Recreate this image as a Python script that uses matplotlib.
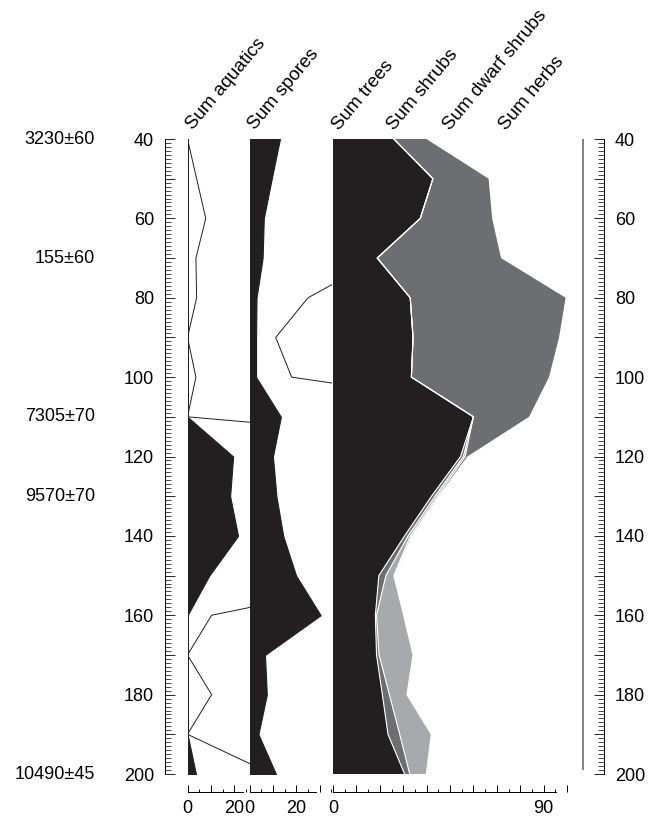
import numpy as np
import matplotlib
matplotlib.use("Agg")
import matplotlib.pyplot as plt
from matplotlib.ticker import MultipleLocator, FuncFormatter
from matplotlib.transforms import blended_transform_factory

plt.rcParams['font.family'] = ['Liberation Sans', 'DejaVu Sans']
plt.rcParams['font.size'] = 13

# depth (cm) of each sample
depths = [40, 50, 60, 70, 80, 90, 100, 110, 120, 130, 140, 150, 160, 170, 180, 190, 200]

# percentages
aquatics = [0, 0, 0, 0, 0, 0, 0, 0, 19.5, 18.2, 21.6, 9.3, 0, 0, 0, 0, 3.6]
aquatics_exag = [0, 3.9, 7.8, 3.6, 3.9, 0, 3.6, 0, 195, 182, 216, 93, 10.3, 0, 10.3, 0, 36]
spores = [13.0, 9.5, 6.1, 5.6, 3.0, 2.8, 2.8, 13.4, 10.0, 11.5, 14.4, 19.9, 30.4, 6.6, 7.4, 3.8, 11.3]
spores_exag_depths = [70, 80, 90, 100, 110]
spores_exag = [56, 25.0, 11.2, 18.0, 134]

trees = [26.0, 42.7, 37.3, 18.9, 33.0, 34.2, 33.5, 60.0, 54.5, 42.1, 30.6, 19.6, 18.1, 18.6, 21.1, 23.5, 30.6]
shrubs = [0, 0, 0, 0, 0, 0, 0, 0, 1.2, 1.5, 1.5, 3.0, 0.5, 1.1, 3.0, 5.0, 2.2]
dwarf_shrubs = [0, 0, 0, 0, 0, 0, 0, 0, 0.8, 1.0, 1.0, 3.4, 11.6, 14.5, 7.5, 13.5, 7.1]
herbs = [13.9, 23.8, 30.7, 52.9, 66.4, 62.4, 58.8, 23.8, 0.9, 0.3, 0.3, 0, 0, 0, 0, 0, 0]

# radiocarbon dates
date_depths = [40, 70, 110, 130, 200]
date_labels = ['3230±60', '155±60', '7305±70', '9570±70', '10490±45']

BLACK = '#231f20'
DARK = '#6d6e71'
LIGHT = '#a7a9ac'

W, H = 653, 821
Y_TOP, Y_BOT = 139, 774
PX = 2.34  # pixels per percent


def rect(x0, x1):
    return [x0 / W, 1 - Y_BOT / H, (x1 - x0) / W, (Y_BOT - Y_TOP) / H]


fig = plt.figure(figsize=(W / 100, H / 100), dpi=100)


def panel(x0, xmax, bound):
    ax = fig.add_axes(rect(x0, x0 + xmax * PX))
    ax.set_xlim(0, xmax)
    ax.set_ylim(200, 40)
    ax.patch.set_visible(False)
    for s in ['top', 'left', 'right']:
        ax.spines[s].set_visible(False)
    ax.spines['bottom'].set_position(('outward', 13))
    ax.spines['bottom'].set_bounds(0, bound)
    ax.spines['bottom'].set_linewidth(0.7)
    ax.set_yticks([])
    ax.xaxis.set_major_locator(MultipleLocator(10))
    ax.xaxis.set_minor_locator(MultipleLocator(5))
    ax.tick_params(axis='x', which='major', direction='in', length=5, width=0.7, pad=6)
    ax.tick_params(axis='x', which='minor', direction='in', length=2.2, width=0.7)
    return ax


d = np.array(depths)

# aquatics
ax_a = panel(187.5, 26.7, 23.8)
ax_a.fill_betweenx(d, 0, aquatics, facecolor=BLACK, edgecolor=BLACK, lw=0.8)
ax_a.plot(aquatics_exag, d, color=BLACK, lw=0.7)
ax_a.xaxis.set_major_formatter(FuncFormatter(lambda v, p: f'{v:.0f}' if v in (0, 20) else ''))

# spores
ax_s = panel(249.5, 35.3, 28.5)
ax_s.fill_betweenx(d, 0, spores, facecolor=BLACK, edgecolor=BLACK, lw=0.8)
ax_s.plot(spores_exag, spores_exag_depths, color=BLACK, lw=0.7)
ax_s.xaxis.set_major_formatter(FuncFormatter(lambda v, p: f'{v:.0f}' if v in (0, 20) else ''))

# main stacked panel
ax_m = panel(333, 100, 95.4)
c1 = np.array(trees)
c2 = c1 + np.array(shrubs)
c3 = c2 + np.array(dwarf_shrubs)
c4 = c3 + np.array(herbs)
ax_m.fill_betweenx(d, 0, c1, facecolor=BLACK, lw=0)
ax_m.fill_betweenx(d, c1, c2, facecolor=DARK, lw=0)
ax_m.fill_betweenx(d, c2, c3, facecolor=LIGHT, lw=0)
ax_m.fill_betweenx(d, c3, c4, facecolor=DARK, lw=0)
for c in (c1, c2, c3):
    ax_m.plot(c, d, color='white', lw=0.8)
ax_m.xaxis.set_major_formatter(FuncFormatter(lambda v, p: f'{v:.0f}' if v in (0, 90) else ''))

# header labels
headers = [(ax_a, 0, 'Sum aquatics'), (ax_s, 0, 'Sum spores'),
           (ax_m, 0, 'Sum trees'), (ax_m, 23.5, 'Sum shrubs'),
           (ax_m, 47.5, 'Sum dwarf shrubs'), (ax_m, 71.5, 'Sum herbs')]
for ax, x, label in headers:
    tr = blended_transform_factory(ax.transData, ax.transAxes)
    ax.text(x + 2.5, 1.013, label, transform=tr, rotation=50, rotation_mode='anchor',
            ha='left', va='baseline', fontsize=13.5)


def depth_axis(x0, x1, side):
    ax = fig.add_axes(rect(x0, x1))
    ax.set_ylim(200, 40)
    ax.set_xticks([])
    ax.patch.set_visible(False)
    for s in ['top', 'bottom', 'left', 'right']:
        ax.spines[s].set_visible(s == side)
    ax.spines[side].set_linewidth(0.7)
    ax.yaxis.set_ticks_position(side)
    ax.yaxis.set_major_locator(MultipleLocator(10))
    ax.yaxis.set_minor_locator(MultipleLocator(1))
    ax.yaxis.set_major_formatter(FuncFormatter(lambda v, p: f'{v:.0f}' if v % 20 == 0 else ''))
    ax.tick_params(axis='y', which='major', direction='in', length=7, width=0.6, pad=8)
    ax.tick_params(axis='y', which='minor', direction='in', length=4, width=0.5)
    return ax


ax_l = depth_axis(165, 180, 'left')
ax_r = depth_axis(580, 604, 'right')
ax_r.set_xlim(0, 1)
ax_r.vlines(0.125, depths[0], depths[-1] - 1, color='#7a7a7a', lw=1.3)

# dates at left
tr = blended_transform_factory(fig.transFigure, ax_l.transData)
for dd, lab in zip(date_depths, date_labels):
    fig.text(95 / W, dd, lab, transform=tr, ha='right', va='center', fontsize=13)

fig.savefig('out.png', dpi=100)
